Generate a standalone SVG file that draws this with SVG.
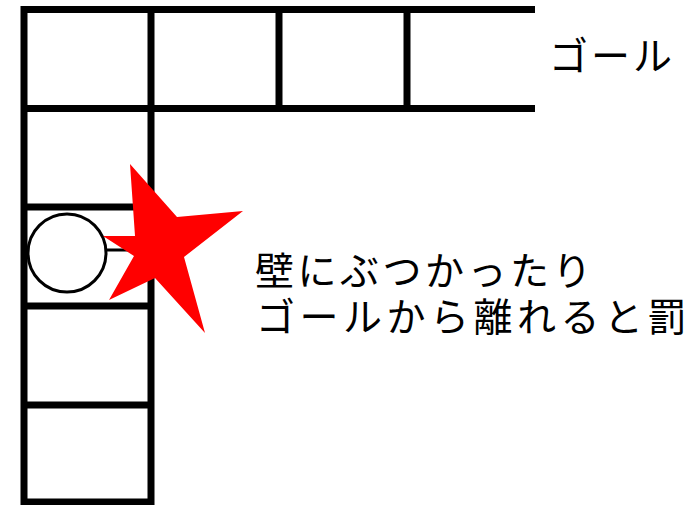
<svg xmlns="http://www.w3.org/2000/svg" width="699" height="505" viewBox="0 0 699 505">
<style>
.wall{stroke:#000;stroke-width:7;fill:none;stroke-linecap:butt}
.lbl{font-family:"Noto Sans CJK JP","Noto Sans",sans-serif;font-size:39px;fill:#000}
</style>
<rect width="699" height="505" fill="#fff"/>
<g id="grid">
<line class="wall" x1="24" y1="9.5" x2="535" y2="9.5"/>
<line class="wall" x1="24" y1="108.5" x2="535" y2="108.5"/>
<line class="wall" x1="24" y1="6" x2="24" y2="505"/>
<line class="wall" x1="151" y1="6" x2="151" y2="505"/>
<line class="wall" x1="279" y1="6" x2="279" y2="112"/>
<line class="wall" x1="407" y1="6" x2="407" y2="112"/>
<line class="wall" x1="24" y1="207" x2="151" y2="207"/>
<line class="wall" x1="24" y1="306" x2="151" y2="306"/>
<line class="wall" x1="24" y1="405" x2="151" y2="405"/>
<line class="wall" x1="24" y1="502" x2="151" y2="502"/>
</g>
<g id="robot">
<line x1="106" y1="250" x2="151" y2="250" stroke="#000" stroke-width="3"/>
<circle cx="67" cy="253" r="39" fill="#fff" stroke="#000" stroke-width="3"/>
</g>
<g id="star">
<polygon points="130,164 177,217 243,211 184,257 205,333 155,278 109,300 134,256 103,236 135,236" fill="#f00"/>
</g>
<g id="goal-label">
<text class="lbl" x="549" y="70" letter-spacing="3">ゴール</text>
</g>
<g id="penalty-label">
<text class="lbl" x="255" y="285" letter-spacing="3.5">壁にぶつかったり</text>
<text class="lbl" x="256" y="331" letter-spacing="4.5">ゴールから離れると罰</text>
</g>
</svg>
